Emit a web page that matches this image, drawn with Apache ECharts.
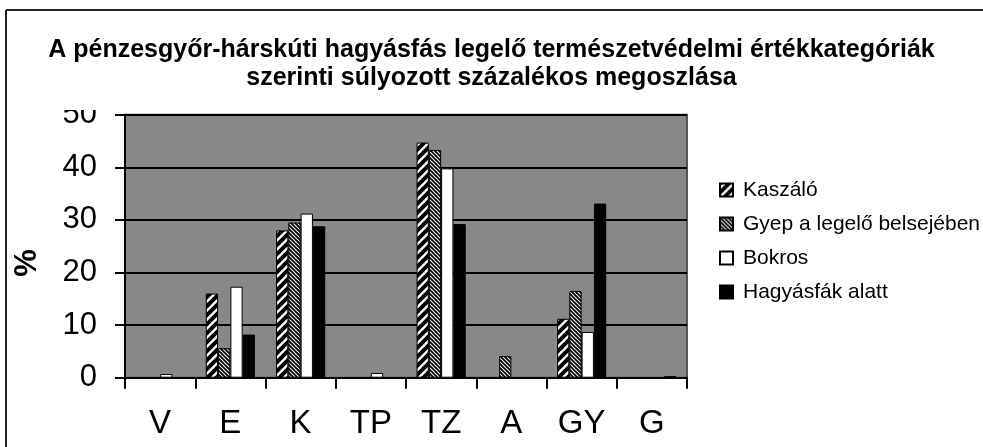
<!DOCTYPE html>
<html>
<head>
<meta charset="utf-8">
<script src="https://cdn.jsdelivr.net/npm/echarts@6/dist/echarts.min.js"></script>
<style>
html,body{margin:0;padding:0;background:#fff;}
#chart{width:983px;height:447px;}
</style>
</head>
<body>
<div id="chart"></div>
<script>
// ---- data ----
var categories = ['V', 'E', 'K', 'TP', 'TZ', 'A', 'GY', 'G'];
var seriesNames = ['Kaszáló', 'Gyep a legelő belsejében', 'Bokros', 'Hagyásfák alatt'];
var kaszalo = [0, 16, 28, 0, 44.7, 0, 11.2, 0];
var gyep = [0, 5.6, 29.5, 0, 43.3, 4.1, 16.5, 0];
var bokros = [0.7, 17.3, 31.2, 0.9, 39.8, 0, 8.7, 0];
var hagyas = [0, 8.2, 28.8, 0, 29.2, 0, 33.1, 0.3];
var yTicks = [0, 10, 20, 30, 40, 50];
var titleText = 'A pénzesgyőr-hárskúti hagyásfás legelő természetvédelmi értékkategóriák\nszerinti súlyozott százalékos megoszlása';
var yName = '%';

// ---- patterns ----
function makeStripe(size, dir, width, bg, fg) {
  var c = document.createElement('canvas');
  c.width = size; c.height = size;
  var g = c.getContext('2d');
  g.fillStyle = bg; g.fillRect(0, 0, size, size);
  g.strokeStyle = fg; g.lineWidth = width;
  g.beginPath();
  for (var k = -1; k <= 1; k++) {
    if (dir === 'fwd') {
      g.moveTo(k * size - 1, size + 1); g.lineTo(k * size + size + 1, -1);
    } else {
      g.moveTo(k * size - 1, -1); g.lineTo(k * size + size + 1, size + 1);
    }
  }
  g.stroke();
  return c;
}
var patKaszalo = { image: makeStripe(9, 'fwd', 4, '#ffffff', '#000000'), repeat: 'repeat' };
var patGyep = { image: makeStripe(4, 'back', 1.8, '#ffffff', '#000000'), repeat: 'repeat' };

var fills = [patKaszalo, patGyep, '#ffffff', '#000000'];
var datas = [kaszalo, gyep, bokros, hagyas];

var chart = echarts.init(document.getElementById('chart'), null, { renderer: 'canvas' });

var series = datas.map(function (d, i) {
  return {
    name: seriesNames[i],
    type: 'bar',
    data: d,
    barGap: '0%',
    barCategoryGap: '30%',
    itemStyle: { color: fills[i], borderColor: '#000', borderWidth: 1 },
    emphasis: { disabled: true }
  };
});

var FONT = 'Liberation Sans, Arial, sans-serif';
var option = {
  animation: false,
  backgroundColor: '#ffffff',
  title: {
    text: titleText,
    left: 'center',
    top: 31,
    textStyle: { fontFamily: FONT, fontWeight: 'bold', fontSize: 25, lineHeight: 28, color: '#000' }
  },
  legend: {
    orient: 'vertical',
    left: 714,
    top: 174,
    itemWidth: 13,
    itemHeight: 13,
    itemGap: 12,
    icon: 'rect',
    textStyle: { fontFamily: FONT, fontSize: 21, color: '#000', lineHeight: 22, padding: [0, 0, 0, 5] },
    data: seriesNames
  },
  grid: {
    left: 125, right: 296, top: 114.7, bottom: 69.3,
    show: true, backgroundColor: '#888888', borderColor: '#555555', borderWidth: 2,
    containLabel: false
  },
  xAxis: {
    type: 'category',
    data: categories,
    axisLine: { lineStyle: { color: '#000', width: 2 } },
    axisTick: { show: true, length: 11, lineStyle: { color: '#000', width: 2 } },
    axisLabel: { color: '#000', fontFamily: FONT, fontSize: 33, margin: 30 }
  },
  yAxis: {
    type: 'value',
    min: yTicks[0],
    max: yTicks[yTicks.length - 1],
    interval: 10,
    axisLine: { show: true, lineStyle: { color: '#000', width: 2 } },
    axisTick: { show: true, length: 10, lineStyle: { color: '#000', width: 2 } },
    splitLine: { show: true, lineStyle: { color: '#000', width: 2 } },
    axisLabel: { color: '#000', fontFamily: FONT, fontSize: 31, margin: 28 }
  },
  graphic: [
    { type: 'line', shape: { x1: 6, y1: 10, x2: 983, y2: 10 }, style: { stroke: '#222', lineWidth: 2 }, z: 100 },
    { type: 'line', shape: { x1: 6, y1: 10, x2: 6, y2: 447 }, style: { stroke: '#222', lineWidth: 2 }, z: 100 },
    { type: 'rect', shape: { x: 40, y: 94, width: 72, height: 16 }, style: { fill: '#ffffff' }, z: 100 },
    { type: 'text', x: 27, y: 263, rotation: Math.PI / 2,
      style: { text: yName, fontFamily: FONT, fontWeight: 'bold', fontSize: 31, fill: '#000', align: 'center', verticalAlign: 'middle' }, z: 100 }
  ],
  series: series
};
chart.setOption(option);
</script>
</body>
</html>
